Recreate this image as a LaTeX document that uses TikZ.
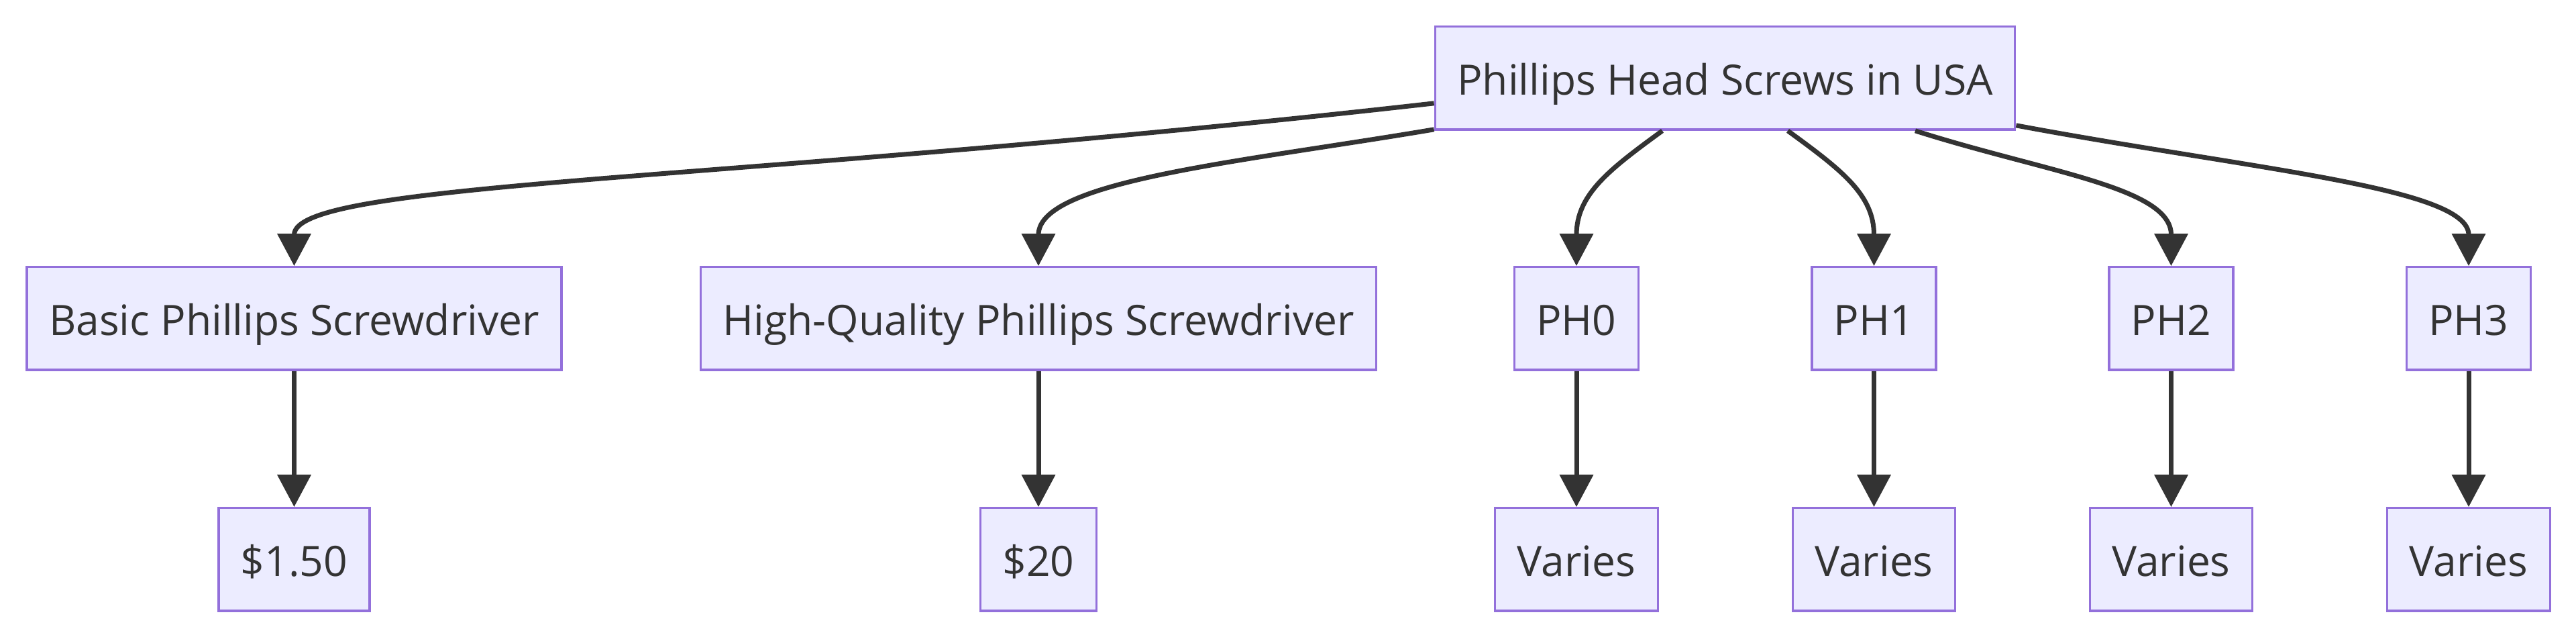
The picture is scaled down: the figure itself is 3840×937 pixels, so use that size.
\documentclass[tikz,border=0pt]{standalone}
\usepackage{fontspec}
\setmainfont{Open Sans}
\usepackage{xcolor}
\usepackage{tikz}
\usetikzlibrary{arrows.meta, calc}
\definecolor{boxfill}{HTML}{ECECFF}
\definecolor{boxline}{HTML}{9370DB}
\definecolor{ink}{HTML}{333333}

\begin{document}
\begin{tikzpicture}[x=0.3pt, y=-0.3pt,
		box/.style={draw=boxline, fill=boxfill, line width=1pt, text=ink, minimum height=46pt, inner xsep=9.9pt, text height=16.8pt, text depth=1.9pt, font=\fontsize{18.7}{22}\selectfont},
		edge/.style={draw=ink, line width=2.1pt, -{Triangle[length=14.4pt, width=14.7pt]}}]
		\useasboundingbox (0,0) rectangle (3840,937);

		\node[box] (root) at (2571.5,116.5) {Phillips Head Screws in USA};

		\node[box] (basic) at (438.5,474.5) {Basic Phillips Screwdriver};
		\node[box] (hq) at (1548,474.5) {High-Quality Phillips Screwdriver};
		\node[box] (ph0) at (2350,474.5) {PH0};
		\node[box] (ph1) at (2793.5,474.5) {PH1};
		\node[box] (ph2) at (3236.5,474.5) {PH2};
		\node[box] (ph3) at (3680,474.5) {PH3};

		\node[box] (cost1) at (438.5,833.5) {\$1.50};
		\node[box] (cost2) at (1548,833.5) {\$20};
		\node[box] (var0) at (2350,833.5) {Varies};
		\node[box] (var1) at (2793.5,833.5) {Varies};
		\node[box] (var2) at (3236.5,833.5) {Varies};
		\node[box] (var3) at (3680,833.5) {Varies};

		\draw[edge] ($(root.south west)+(0,-41)$) .. controls +(-1040,118) and +(0,-127) .. (basic.north);
		\draw[edge] ($(root.south west)+(0,-2)$) .. controls +(-290,49) and +(0,-127) .. (hq.north);
		\draw[edge] ($(root.south)+(-93.5,0)$) .. controls +(-78,57) and +(0,-107) .. (ph0.north);
		\draw[edge] ($(root.south)+(93.5,0)$) .. controls +(78,57) and +(0,-107) .. (ph1.north);
		\draw[edge] ($(root.south)+(283.5,0)$) .. controls +(195,62) and +(0,-117) .. (ph2.north);
		\draw[edge] ($(root.south east)+(0,-8)$) .. controls +(347,65) and +(0,-117) .. (ph3.north);

		\draw[edge] (basic) -- (cost1);
		\draw[edge] (hq) -- (cost2);
		\draw[edge] (ph0) -- (var0);
		\draw[edge] (ph1) -- (var1);
		\draw[edge] (ph2) -- (var2);
		\draw[edge] (ph3) -- (var3);
	\end{tikzpicture}
\end{document}
